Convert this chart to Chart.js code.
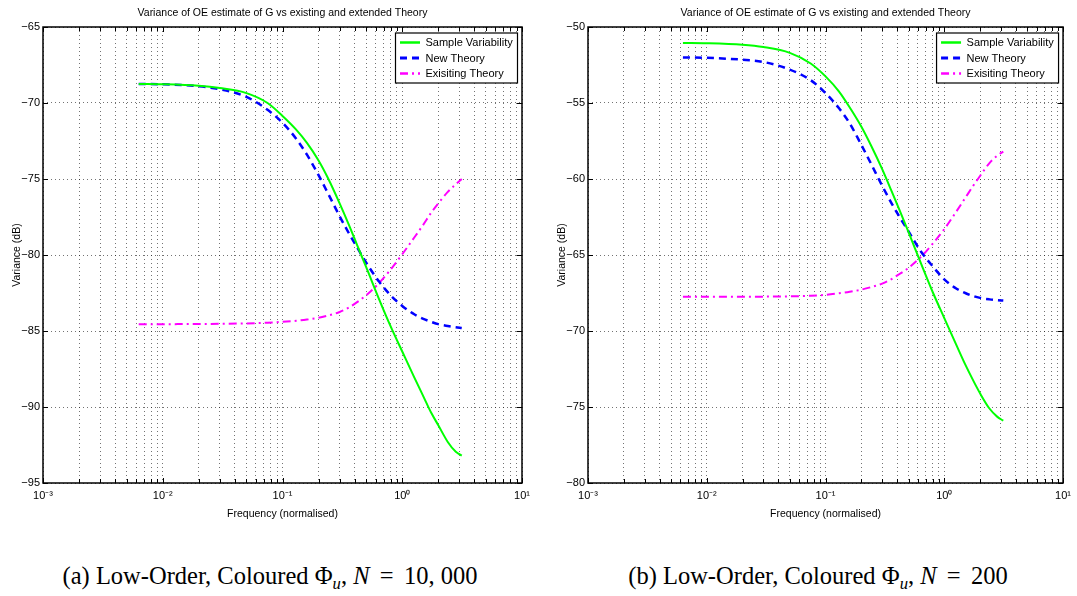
<!DOCTYPE html>
<html><head><meta charset="utf-8">
<script src="https://cdn.jsdelivr.net/npm/chart.js@4.4.0/dist/chart.umd.min.js"></script>
<style>
html,body{margin:0;padding:0;background:#fff;width:1077px;height:596px;overflow:hidden;position:relative;}
canvas{position:absolute;top:0;}
#c1{left:0;}
#c2{left:545px;}
.cap{position:absolute;top:562px;font-family:"Liberation Serif","Times New Roman",serif;font-size:24.5px;color:#000;white-space:nowrap;transform:translateX(-50%);line-height:28px;}
.cap sub{font-size:68%;vertical-align:-5px;line-height:0;}
.cap .op{margin:0 0.17em;}
</style></head>
<body>
<canvas id="c1" width="540" height="530"></canvas>
<canvas id="c2" width="532" height="530"></canvas>
<div class="cap" style="left:270px">(a) Low-Order, Coloured Φ<sub><i>u</i></sub>, <i>N</i> <span class="op">=</span> 10, 000</div>
<div class="cap" style="left:818px">(b) Low-Order, Coloured Φ<sub><i>u</i></sub>, <i>N</i> <span class="op">=</span> 200</div>
<script>
// ---------- data ----------
const freq = [0.0063,0.01,0.02,0.03,0.05,0.075,0.1,0.13,0.16,0.2,0.24,0.3,0.36,0.42,0.5,0.64,0.8,1.0,1.26,1.5,1.75,2.0,2.4,2.8,3.14];
// panel (a) N = 10,000
const sampleA = [-68.75,-68.77,-68.87,-69.02,-69.35,-70.0,-70.85,-71.75,-72.62,-73.78,-74.95,-76.6,-78.05,-79.35,-80.8,-82.9,-84.7,-86.35,-88.05,-89.3,-90.4,-91.2,-92.3,-92.95,-93.2];
const newA    = [-68.75,-68.77,-68.9,-69.1,-69.6,-70.45,-71.3,-72.35,-73.4,-74.75,-75.95,-77.45,-78.6,-79.5,-80.5,-81.75,-82.65,-83.35,-83.9,-84.2,-84.4,-84.55,-84.67,-84.75,-84.8];
const existA  = [-84.55,-84.55,-84.54,-84.53,-84.5,-84.45,-84.4,-84.33,-84.25,-84.13,-83.98,-83.75,-83.45,-83.1,-82.65,-81.85,-80.95,-79.95,-78.85,-78.0,-77.2,-76.6,-75.85,-75.35,-75.0];
// panel (b) N = 200
const sampleB = [-51.05,-51.07,-51.17,-51.32,-51.7,-52.4,-53.25,-54.25,-55.3,-56.55,-57.75,-59.35,-60.8,-62.05,-63.5,-65.6,-67.45,-69.15,-70.9,-72.2,-73.25,-74.1,-75.1,-75.65,-75.9];
const newB    = [-52.0,-52.03,-52.15,-52.3,-52.8,-53.5,-54.35,-55.35,-56.35,-57.75,-58.95,-60.45,-61.6,-62.5,-63.45,-64.8,-65.75,-66.6,-67.2,-67.5,-67.7,-67.82,-67.92,-67.98,-68.0];
const existB  = [-67.75,-67.75,-67.75,-67.74,-67.72,-67.68,-67.62,-67.52,-67.42,-67.28,-67.12,-66.88,-66.58,-66.25,-65.85,-65.1,-64.25,-63.3,-62.15,-61.25,-60.45,-59.8,-58.95,-58.45,-58.2];

const seriesNames = ['Sample Variability','New Theory','Exisiting Theory'];
const titleText = 'Variance of OE estimate of G vs existing and extended Theory';
const xAxisTitle = 'Frequency (normalised)';
const yAxisTitle = 'Variance (dB)';
const xDecades = [0.001,0.01,0.1,1,10];
const xDecadeLabels = ['10\u207B\u00B3','10\u207B\u00B2','10\u207B\u00B9','10\u2070','10\u00B9'];
const yRangeA = [-95,-65];
const yRangeB = [-80,-50];

// ---------- styles ----------
const styles = [
  {color:'#00ff00', width:2, dash:[]},
  {color:'#0000ff', width:2.5, dash:[7,5]},
  {color:'#ff00ff', width:2, dash:[8,4,2,4]}
];
const FONT = '"Liberation Sans", Arial, sans-serif';

const framePlugin = {
  id:'frame',
  afterDraw(chart){
    const {ctx, chartArea:a, scales:{x,y}} = chart;
    ctx.save();
    ctx.strokeStyle='#000'; ctx.lineWidth=1;
    const ln=(x1,y1,x2,y2)=>{ctx.beginPath();ctx.moveTo(x1,y1);ctx.lineTo(x2,y2);ctx.stroke();};
    x.ticks.forEach(t=>{
      const px=Math.round(x.getPixelForValue(t.value))+0.5;
      const L = xDecades.includes(t.value)?5:4;
      ln(px,a.bottom,px,a.bottom-L); ln(px,a.top,px,a.top+L);
    });
    y.ticks.forEach(t=>{
      const py=Math.round(y.getPixelForValue(t.value))+0.5;
      ln(a.left,py,a.left+5,py); ln(a.right,py,a.right-5,py);
    });
    ctx.lineWidth=1.5;
    ctx.strokeRect(a.left,a.top,a.right-a.left,a.bottom-a.top);
    // title
    ctx.fillStyle='#000'; ctx.font='10.5px '+FONT; ctx.textAlign='center'; ctx.textBaseline='middle';
    ctx.fillText(titleText,(a.left+a.right)/2,13);
    // legend
    const bw=122, bh=50, rowH=15.5;
    const bx=a.right-bw-5, by=a.top+5.5;
    ctx.fillStyle='#fff'; ctx.fillRect(bx,by,bw,bh);
    ctx.lineWidth=1.2; ctx.strokeStyle='#000'; ctx.strokeRect(bx+0.5,by+0.5,bw,bh);
    ctx.font='11px '+FONT; ctx.textBaseline='middle'; ctx.textAlign='left';
    chart.data.datasets.forEach((ds,i)=>{
      const yy=by+10+i*rowH;
      ctx.save();
      ctx.strokeStyle=ds.borderColor; ctx.lineWidth=ds.borderWidth+0.5;
      ctx.setLineDash(ds.borderDash||[]);
      ln(bx+5,yy,bx+25,yy);
      ctx.restore();
      ctx.fillStyle='#000';
      ctx.fillText(ds.label,bx+30.5,yy+0.5);
    });
    ctx.restore();
  }
};

function makeChart(id, yr, vals, padRight){
  const datasets = vals.map((v,i)=>({
    label: seriesNames[i],
    data: freq.map((f,k)=>({x:f,y:v[k]})),
    borderColor: styles[i].color,
    borderWidth: styles[i].width,
    borderDash: styles[i].dash,
    pointRadius:0,
    fill:false,
    cubicInterpolationMode:'monotone'
  }));
  return new Chart(document.getElementById(id),{
    type:'line',
    data:{datasets},
    plugins:[framePlugin],
    options:{
      responsive:false, animation:false, devicePixelRatio:1,
      layout:{padding:{top:27,right:padRight,bottom:0,left:0}},
      plugins:{ legend:{display:false}, tooltip:{enabled:false}, title:{display:false} },
      scales:{
        x:{
          type:'logarithmic', min:0.001, max:10,
          afterBuildTicks(s){
            const t=[];
            for(let k=0;k<4;k++){ for(let m=1;m<10;m++) t.push({value:+(m*xDecades[k]).toPrecision(3)}); }
            t.push({value:10});
            s.ticks=t;
          },
          afterFit(s){ s.height=47; },
          ticks:{
            autoSkip:false, maxRotation:0, minRotation:0, padding:6,
            color:'#000', font:{family:FONT,size:11},
            callback(v){ const i=xDecades.indexOf(v); return i>=0?xDecadeLabels[i]:''; }
          },
          grid:{color:'rgba(0,0,0,0.55)', lineWidth:1, drawTicks:false},
          border:{display:false, dash:[1,3]},
          title:{display:true,text:xAxisTitle,color:'#000',font:{family:FONT,size:10.5},padding:{top:0,bottom:9.5}}
        },
        y:{
          type:'linear', min:yr[0], max:yr[1],
          afterFit(s){ s.width=43; },
          ticks:{stepSize:5, padding:3, color:'#000', font:{family:FONT,size:11},
            callback(v){ return String(v).replace('-','\u2212'); }},
          grid:{color:'rgba(0,0,0,0.55)', lineWidth:1, drawTicks:false},
          border:{display:false, dash:[1,3]},
          title:{display:true,text:yAxisTitle,color:'#000',font:{family:FONT,size:10.5},padding:{top:10.5,bottom:0}}
        }
      }
    }
  });
}
makeChart('c1', yRangeA, [sampleA,newA,existA], 18);
makeChart('c2', yRangeB, [sampleB,newB,existB], 10);
</script>
</body></html>
